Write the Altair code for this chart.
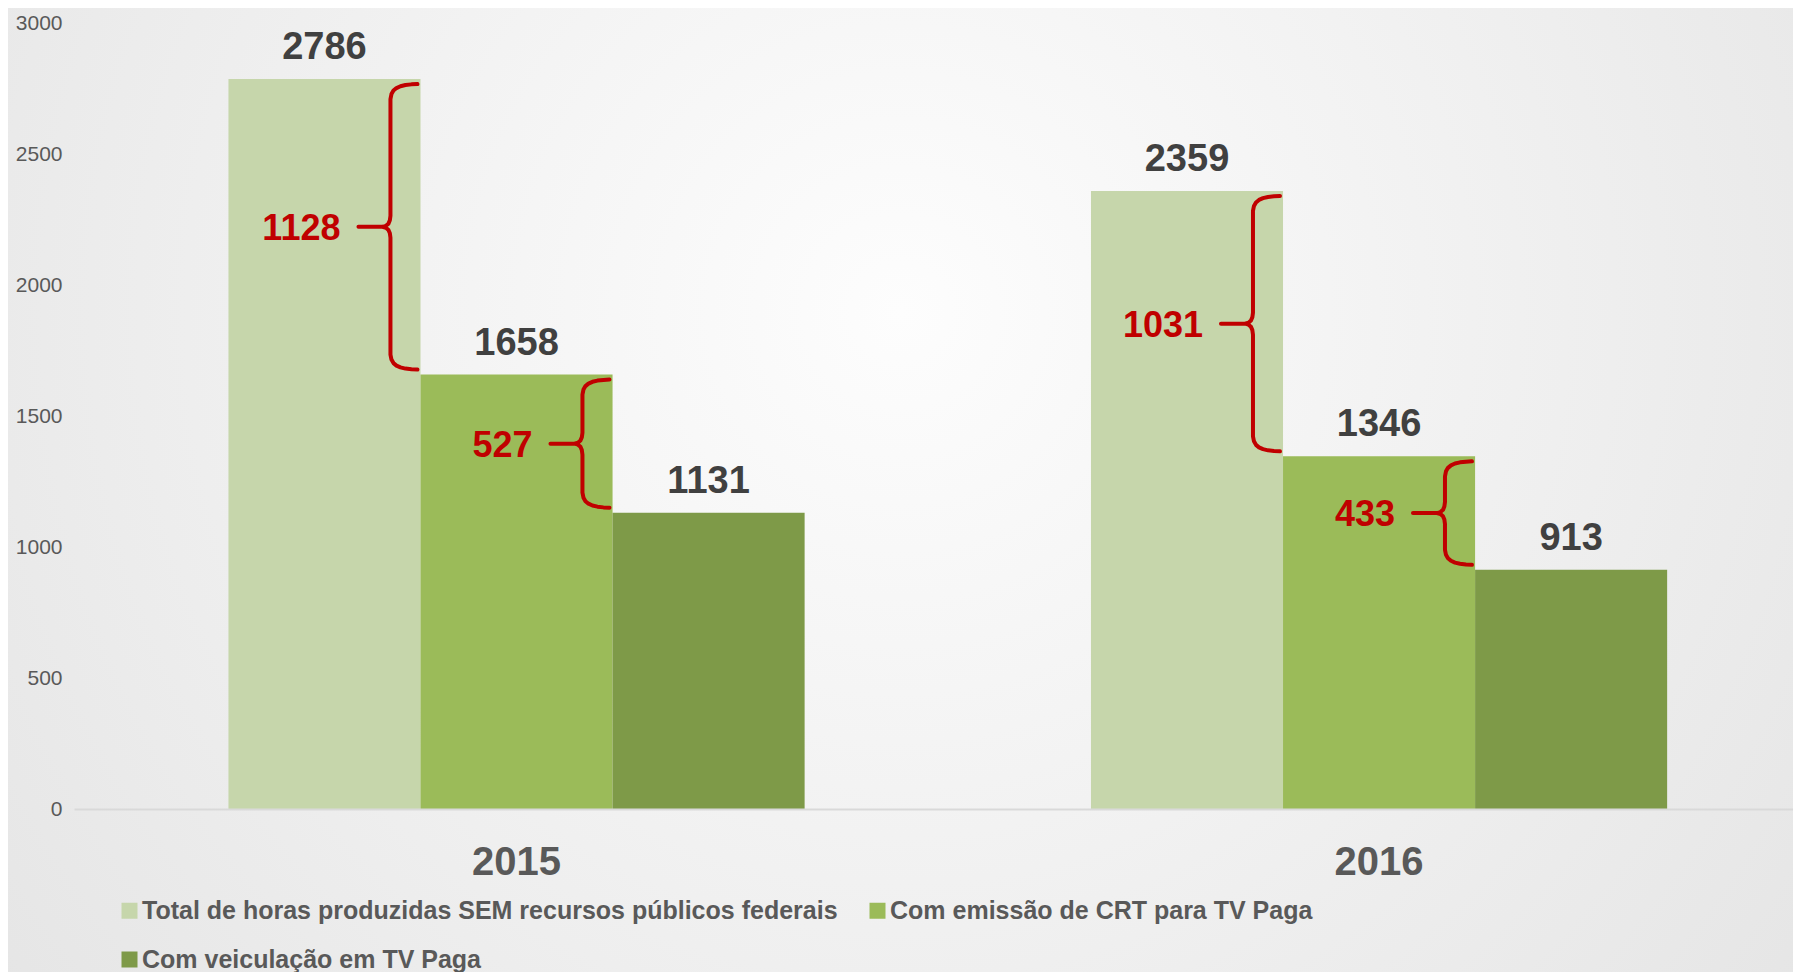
import altair as alt
import pandas as pd

# ---- data ----
years = ["2015", "2016"]
series = [
    "Total de horas produzidas SEM recursos públicos federais",
    "Com emissão de CRT para TV Paga",
    "Com veiculação em TV Paga",
]
total_hours = [2786, 2359]
crt_hours = [1658, 1346]
tv_hours = [1131, 913]
# difference labels exactly as printed on the chart
gap_labels = ["1128", "527", "1031", "433"]
colors = ["#C6D6AB", "#9BBB59", "#7E9A48"]

BOLD = "'Liberation Sans', Arial, sans-serif"

W, H = 1719, 786
Y_MAX = 3000
U = Y_MAX / H  # value units per pixel, for brace curl sizes

values_by_series = [total_hours, crt_hours, tv_hours]
bars_df = pd.DataFrame(
    [
        {"year": y, "series": s, "value": vals[i]}
        for s, vals in zip(series, values_by_series)
        for i, y in enumerate(years)
    ]
)

SUB = 192  # px width of one bar inside a year group (styling)

# braces: between consecutive series within a year
brace_rows = []
li = 0
for i, y in enumerate(years):
    for j in range(2):
        brace_rows.append(
            {
                "bid": f"{y}-{j}",
                "year": y,
                "top": values_by_series[j][i],
                "bottom": values_by_series[j + 1][i],
                "label": gap_labels[li],
                "edge": SUB * (j + 1),  # right edge of bar j from the group start (px)
            }
        )
        li += 1

# brace outline template: (px offset from bar edge, anchor, px vertical offset, downwards)
TEMPLATE = [
    (-3, "top", 5), (-9, "top", 5.3), (-15, "top", 6), (-20, "top", 7.2),
    (-24, "top", 9), (-27, "top", 11.5), (-29, "top", 15), (-30, "top", 20),
    (-30, "mid", -11), (-30.6, "mid", -6.5), (-32, "mid", -3.2), (-34.5, "mid", -1), (-38, "mid", 0),
    (-62, "mid", 0), (-38, "mid", 0), (-34.5, "mid", 1), (-32, "mid", 3.2), (-30.6, "mid", 6.5), (-30, "mid", 11),
    (-30, "bottom", -20), (-29, "bottom", -15), (-27, "bottom", -11.5), (-24, "bottom", -9),
    (-20, "bottom", -7.2), (-15, "bottom", -6), (-9, "bottom", -5.3), (-3, "bottom", -5),
]
pts = []
for b in brace_rows:
    mid = (b["top"] + b["bottom"]) / 2
    for k, (dx, anchor, dy) in enumerate(TEMPLATE):
        v = b["top"] if anchor == "top" else (b["bottom"] if anchor == "bottom" else mid)
        pts.append({"bid": b["bid"], "year": b["year"], "k": k, "v": v - dy * U,
                    "dx": b["edge"] + dx})
brace_df = pd.DataFrame(pts)
red_df = pd.DataFrame(
    [{"year": b["year"], "mid": (b["top"] + b["bottom"]) / 2, "label": b["label"],
      "dx": b["edge"] - 80} for b in brace_rows]
)

x_enc = alt.X(
    "year:N", sort=years, title=None,
    scale=alt.Scale(paddingInner=0.332, paddingOuter=0.1625, align=0.551),
    axis=alt.Axis(labelAngle=0, labelFont=BOLD, labelFontSize=40, labelFontWeight="bold",
                  labelColor="#595959", labelPadding=33, ticks=False, tickSize=0,
                  domainColor="#D9D9D9", domainWidth=2, grid=False, zindex=1),
)
y_enc = alt.Y(
    "value:Q", title=None, scale=alt.Scale(domain=[0, Y_MAX]),
    axis=alt.Axis(values=[0, 500, 1000, 1500, 2000, 2500, 3000], format="d",
                  labelFont="Liberation Sans", labelFontSize=21, labelColor="#595959",
                  labelPadding=12, ticks=False, domain=False, grid=False, zindex=1),
)

backdrop = alt.Chart(pd.DataFrame({"a": [0]})).mark_rect(
    color=alt.Gradient(
        gradient="radial",
        stops=[alt.GradientStop(color="#FDFDFD", offset=0),
               alt.GradientStop(color="#E2E2E2", offset=1)],
        x1=0.5, y1=0.4, x2=0.5, y2=0.4, r1=0, r2=0.72,
    )
).encode(x=alt.value(-66), x2=alt.value(W), y=alt.value(-15), y2=alt.value(949))

bars = alt.Chart(bars_df).mark_bar().encode(
    x=x_enc,
    xOffset=alt.XOffset("series:N", sort=series,
                        scale=alt.Scale(paddingInner=0, paddingOuter=0)),
    y=y_enc,
    color=alt.Color(
        "series:N", sort=series, scale=alt.Scale(domain=series, range=colors),
        legend=alt.Legend(
            title=None, orient="none", legendX=43, legendY=875, direction="horizontal",
            columns=2, columnPadding=27, rowPadding=23, symbolType="square",
            symbolSize=256, symbolStrokeWidth=0, labelFont=BOLD, labelFontSize=25,
            labelFontWeight="bold", labelColor="#595959", labelLimit=2000,
            labelOffset=0, padding=0,
        ),
    ),
)

bar_labels = alt.Chart(bars_df).mark_text(
    font=BOLD, fontSize=38, fontWeight="bold", color="#404040",
    baseline="alphabetic", dy=-20,
).encode(
    x=alt.X("year:N", sort=years),
    xOffset=alt.XOffset("series:N", sort=series,
                        scale=alt.Scale(type="point", padding=0.5)),
    y=alt.Y("value:Q"),
    text="value:Q",
)

braces = alt.Chart(brace_df).mark_line(
    color="#C00000", strokeWidth=4, strokeCap="round", strokeJoin="round",
).encode(
    x=alt.X("year:N", sort=years),
    y=alt.Y("v:Q"),
    xOffset=alt.XOffset("dx:Q", scale=alt.Scale(domain=[-600, 600], range=[-600, 600])),
    detail="bid:N",
    order="k:Q",
)

red_labels = alt.Chart(red_df).mark_text(
    font=BOLD, fontSize=36, fontWeight="bold", color="#C00000",
    align="right", baseline="middle", dy=2,
).encode(
    x=alt.X("year:N", sort=years),
    y=alt.Y("mid:Q"),
    xOffset=alt.XOffset("dx:Q", scale=alt.Scale(domain=[-600, 600], range=[-600, 600])),
    text="label:N",
)

chart = (
    alt.layer(backdrop, bars, bar_labels, braces, red_labels)
    .resolve_scale(xOffset="independent")
    .properties(
        width=W, height=H,
        padding={"left": 66, "top": 15, "right": 0, "bottom": 163},
        autosize=alt.AutoSizeParams(type="none"),
        background="#F2F2F2",
    )
    .configure_view(stroke=None)
)

chart.save("out.html", embed_options={"renderer": "svg", "actions": False})
